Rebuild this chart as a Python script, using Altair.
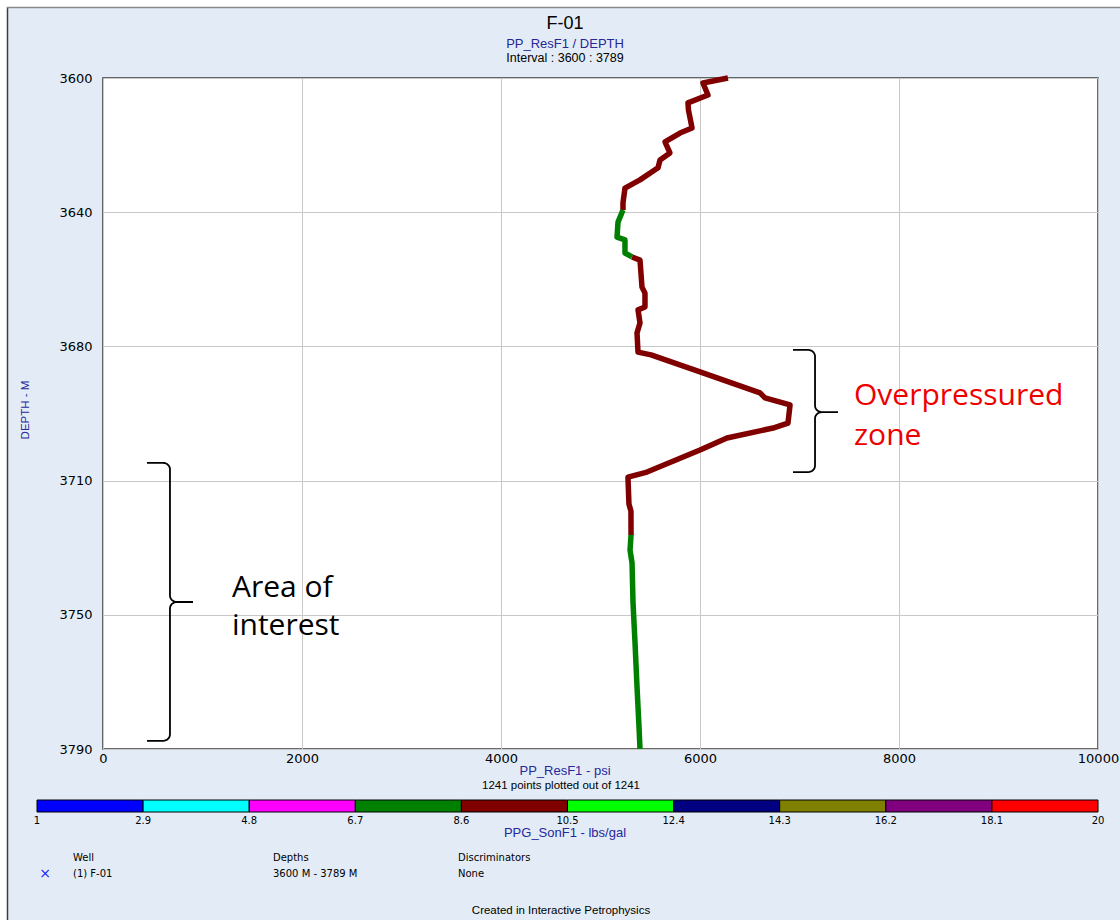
import altair as alt
import numpy as np
import pandas as pd

# ---- PP_ResF1 (psi) against depth (m); one run per PPG_SonF1 colour class ----
depth_run1 = [3600.0, 3601.4, 3604.8, 3607.0, 3609.0, 3614.1, 3615.5, 3618.0, 3621.1,
              3623.1, 3625.3, 3628.7, 3631.0, 3635.2, 3637.2]
pp_run1 = [6281, 6030, 6080, 5879, 5884, 5920, 5799, 5648, 5698,
           5598, 5578, 5397, 5246, 5226, 5226]

depth_run2 = [3637.2, 3640.6, 3644.8, 3645.6, 3649.3, 3650.4]
pp_run2 = [5226, 5176, 5166, 5246, 5246, 5317]

depth_run3 = [3650.4, 3651.3, 3658.9, 3660.6, 3664.5, 3665.3, 3669.0, 3671.8, 3677.2,
              3678.0, 3682.8, 3688.7, 3690.1, 3692.1, 3697.2, 3698.6, 3701.4, 3704.8,
              3711.0, 3712.4, 3720.0, 3722.0, 3728.7]
pp_run3 = [5317, 5397, 5417, 5447, 5447, 5377, 5397, 5367, 5377,
           5508, 6000, 6603, 6653, 6905, 6884, 6734, 6271, 6000,
           5467, 5276, 5286, 5306, 5307]

depth_run4 = [3728.7, 3733.0, 3736.6, 3747.9, 3759.1, 3771.5, 3782.8, 3789.0]
pp_run4 = [5307, 5297, 5317, 5327, 5347, 5367, 5387, 5397]

run_depths = [depth_run1, depth_run2, depth_run3, depth_run4]
run_pp = [pp_run1, pp_run2, pp_run3, pp_run4]
run_ppg = [9.5, 7.8, 9.6, 7.9]          # lbs/gal class of each run

# ---- PPG_SonF1 colour classes ----
ppg_edges = [1, 2.9, 4.8, 6.7, 8.6, 10.5, 12.4, 14.3, 16.2, 18.1, 20]
ppg_colors = ["#0000ff", "#00ffff", "#ff00ff", "#008000", "#800000",
              "#00ff00", "#000080", "#808000", "#800080", "#ff0000"]

y_ticks = [3600, 3637.8, 3675.6, 3713.4, 3751.2, 3789]
x_ticks = [0, 2000, 4000, 6000, 8000, 10000]

# ---- layout (plot area inside the page) ----
PLOT_L, PLOT_T, PLOT_W, PLOT_H = 103, 78, 995, 671
PAGE_W, PAGE_H = 1120, 920
BG = "#e3ecf6"
BLUE = "#27279b"
NARROW = "Liberation Sans Narrow, Liberation Sans, Arial"
TAHOMA = "DejaVu Sans"

rows = []
for k, (ds, ps) in enumerate(zip(run_depths, run_pp)):
    for i, (d, p) in enumerate(zip(ds, ps)):
        rows.append({"run": k, "i": i, "depth": d, "pp": p, "ppg": run_ppg[k]})
log_df = pd.DataFrame(rows)

ppg_scale = alt.Scale(type="threshold", domain=ppg_edges[1:-1], range=ppg_colors)
x_scale = alt.Scale(domain=[0, 10000], nice=False, zero=False)
y_scale = alt.Scale(domain=[3600, 3789], reverse=True, nice=False, zero=False)

log_line = alt.Chart(log_df).mark_line(strokeWidth=5.5, strokeJoin="round").encode(
    x=alt.X("pp:Q", scale=x_scale,
            axis=alt.Axis(values=x_ticks, format="d", title=None, labelPadding=3,
                          labelFlush=False)),
    y=alt.Y("depth:Q", scale=y_scale,
            axis=alt.Axis(values=y_ticks, title=None, labelPadding=11, labelFlush=False,
                          labelExpr="format(round(datum.value / 10) * 10, 'd')")),
    color=alt.Color("ppg:Q", scale=ppg_scale, legend=None),
    detail="run:N",
    order="i:Q",
)


# ---- curly braces ("}" pointing right) in psi / depth units ----
def brace(x_end, x_stem, x_tip, top, mid, bottom, rx=70, ry=1.8):
    pts = [(x_end, top)]
    t = np.linspace(0, np.pi / 2, 8)
    # top hook
    pts += [(x_stem - rx + rx * np.sin(a), top + ry - ry * np.cos(a)) for a in t]
    # into the point
    pts += [(x_stem + rx - rx * np.cos(a), mid - ry + ry * np.sin(a)) for a in t]
    pts += [(x_tip, mid)]
    pts += [(x_stem + rx - rx * np.cos(a), mid + ry - ry * np.sin(a)) for a in t[::-1]]
    # bottom hook
    pts += [(x_stem - rx + rx * np.sin(a), bottom - ry + ry * np.cos(a)) for a in t[::-1]]
    pts += [(x_end, bottom)]
    return pts


brace_rows = []
for b, spec in enumerate([(442, 673, 905, 3708.4, 3747.6, 3786.7),
                          (6935, 7156, 7387, 3676.6, 3694.1, 3711.0)]):
    for i, (x, y) in enumerate(brace(*spec)):
        brace_rows.append({"b": b, "i": i, "pp": x, "depth": y})
brace_df = pd.DataFrame(brace_rows)

braces = alt.Chart(brace_df).mark_line(color="black", strokeWidth=1.8).encode(
    x=alt.X("pp:Q", scale=x_scale), y=alt.Y("depth:Q", scale=y_scale),
    detail="b:N", order="i:Q",
)


def note(text, pp, depth, color):
    return alt.Chart(pd.DataFrame({"t": [text]})).mark_text(
        font="Open Sans", fontSize=30, color=color, align="left", baseline="alphabetic"
    ).encode(x=alt.datum(pp), y=alt.datum(depth), text="t:N")


notes = [
    note("Area of", 1296, 3746.2, "black"),
    note("interest", 1296, 3757.0, "black"),
    note("Overpressured", 7548, 3692.1, "#ee0000"),
    note("zone", 7548, 3703.4, "#ee0000"),
]


def px(x):
    return x - PLOT_L


def py(y):
    return y - PLOT_T


def label(text, x, y, size, color="black", font=NARROW, align="center", angle=0):
    kw = dict(font=font, fontSize=size, color=color, align=align, baseline="middle")
    if angle:
        kw["angle"] = angle
    return alt.Chart(pd.DataFrame({"t": [text]})).mark_text(**kw).encode(
        x=alt.value(px(x)), y=alt.value(py(y)), text="t:N")


texts = [
    label("F-01", 565, 24, 18),
    label("PP_ResF1 / DEPTH", 565, 44, 13, BLUE),
    label("Interval : 3600 : 3789", 565, 58, 12.5),
    label("DEPTH - M", 26, 410, 11.5, BLUE, angle=270),
    label("PP_ResF1 - psi", 565, 771, 13, BLUE),
    label("1241 points plotted out of 1241", 561, 786, 11.5),
    label("PPG_SonF1 - lbs/gal", 565, 833, 13, BLUE),
    label("Well", 73, 858, 10, font=TAHOMA, align="left"),
    label("\u00d7", 45, 874, 14, "#1a1aff", font=TAHOMA),
    label("(1) F-01", 73, 874, 10, font=TAHOMA, align="left"),
    label("Depths", 273, 858, 10, font=TAHOMA, align="left"),
    label("3600 M - 3789 M", 273, 874, 10, font=TAHOMA, align="left"),
    label("Discriminators", 458, 858, 10, font=TAHOMA, align="left"),
    label("None", 458, 874, 10, font=TAHOMA, align="left"),
    label("Created in Interactive Petrophysics", 561, 911, 11.5),
]

# ---- colour bar for PPG_SonF1 ----
bar_df = pd.DataFrame({"lo": ppg_edges[:-1], "hi": ppg_edges[1:],
                       "mid": [(a + b) / 2 for a, b in zip(ppg_edges[:-1], ppg_edges[1:])]})
bar_scale = alt.Scale(domain=[1, 20], range=[px(37), px(1098)], nice=False, zero=False)
bar = alt.Chart(bar_df).mark_rect(stroke="black", strokeWidth=1).encode(
    x=alt.X("lo:Q", scale=bar_scale, axis=None),
    x2="hi:Q",
    y=alt.value(py(800)), y2=alt.value(py(812)),
    color=alt.Color("mid:Q", scale=ppg_scale, legend=None),
)
edge_df = pd.DataFrame({"edge": ppg_edges, "lab": [f"{e:g}" for e in ppg_edges]})
bar_labels = alt.Chart(edge_df).mark_text(font=TAHOMA, fontSize=10, color="black").encode(
    x=alt.X("edge:Q", scale=bar_scale, axis=None),
    y=alt.value(py(821)), text="lab:N",
)
colorbar = alt.layer(bar, bar_labels)

# ---- page frame ----
def box(x1, x2, y1, y2, fill):
    return alt.Chart(pd.DataFrame({"a": [0]})).mark_rect(fill=fill).encode(
        x=alt.value(px(x1)), x2=alt.value(px(x2)), y=alt.value(py(y1)), y2=alt.value(py(y2)))


def rule(x1, x2, y1, y2, color, width):
    return alt.Chart(pd.DataFrame({"a": [0]})).mark_rule(color=color, strokeWidth=width).encode(
        x=alt.value(px(x1)), x2=alt.value(px(x2)), y=alt.value(py(y1)), y2=alt.value(py(y2)))


frame = [
    box(0, 7, 0, PAGE_H, "white"),
    box(0, PAGE_W, 0, 7, "white"),
    rule(7.5, 7.5, 7, PAGE_H, "#3c3c3c", 1.5),
    rule(7, PAGE_W, 7.5, 7.5, "#8a8a8a", 1.5),
]

plot = alt.layer(log_line, braces, *notes)

chart = alt.layer(*frame, plot, colorbar, *texts).resolve_scale(
    x="independent"
).properties(
    width=PLOT_W, height=PLOT_H,
    autosize=alt.AutoSizeParams(type="none"),
    padding={"left": PLOT_L, "top": PLOT_T,
             "right": PAGE_W - PLOT_L - PLOT_W, "bottom": PAGE_H - PLOT_T - PLOT_H},
    background=BG,
).configure_view(
    fill="white", stroke="#3a3a3a", strokeWidth=1.5,
).configure_axis(
    grid=True, gridColor="#c8c8c8", gridWidth=1, domain=False, ticks=False,
    labelFont=TAHOMA, labelFontSize=13, labelColor="black",
)

chart.save("out.html", embed_options={"renderer": "svg", "actions": False})
